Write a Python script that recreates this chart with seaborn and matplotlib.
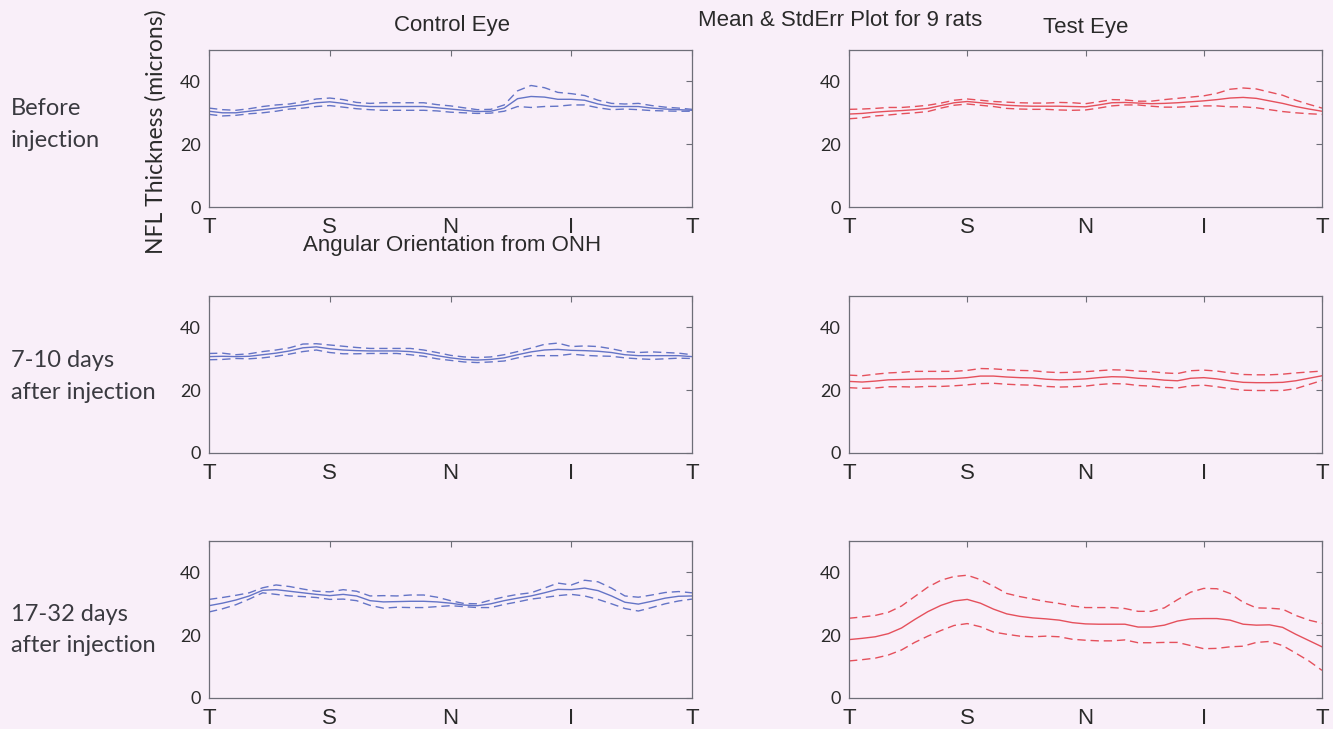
import numpy as np
import pandas as pd
import matplotlib
matplotlib.use("Agg")
import matplotlib.pyplot as plt
import seaborn as sns

# Angular position around the optic nerve head, degrees (T -> S -> N -> I -> T)
angle = np.arange(0, 361, 10)
tick_pos = [0, 90, 180, 270, 360]
tick_labels = ["T", "S", "N", "I", "T"]
y_ticks = [0, 20, 40]

# NFL thickness (microns), mean and standard error, 9 rats
ctrl_before_mean = [30.5, 30.0, 30.0, 30.5, 31.0, 31.5, 32.0, 32.5, 33.2, 33.5, 33.0, 32.3,
                    32.0, 32.0, 32.0, 32.0, 32.0, 31.6, 31.2, 30.8, 30.4, 30.5, 31.5, 34.5,
                    35.2, 35.0, 34.3, 34.3, 34.0, 32.8, 32.0, 32.0, 32.0, 31.5, 31.2, 31.0, 30.8]
ctrl_before_se = [1.0, 1.0, 0.8, 0.8, 1.0, 1.0, 0.8, 1.0, 1.2, 1.2, 1.2, 1.0,
                  1.0, 1.2, 1.2, 1.2, 1.2, 1.0, 1.0, 0.8, 0.6, 0.6, 1.0, 2.5,
                  3.5, 3.0, 2.2, 1.8, 1.5, 1.2, 1.0, 0.8, 1.0, 0.8, 0.6, 0.5, 0.3]

test_before_mean = [29.6, 29.8, 30.2, 30.5, 30.7, 31.0, 31.4, 32.3, 33.2, 33.6, 33.2, 32.8,
                    32.4, 32.2, 32.1, 32.1, 32.1, 32.0, 31.9, 32.5, 33.2, 33.3, 33.1, 32.9,
                    33.0, 33.2, 33.5, 33.8, 34.2, 34.7, 34.9, 34.6, 33.8, 33.0, 32.0, 31.2, 30.5]
test_before_se = [1.5, 1.4, 1.2, 1.2, 1.0, 1.0, 1.0, 0.8, 0.8, 0.8, 0.8, 0.8,
                  1.0, 1.0, 1.0, 1.0, 1.2, 1.2, 1.0, 1.0, 1.0, 0.8, 0.6, 0.8,
                  1.2, 1.4, 1.5, 1.6, 2.0, 2.8, 3.0, 3.0, 2.8, 2.6, 2.0, 1.5, 1.0]

ctrl_week_mean = [30.7, 30.8, 30.7, 30.8, 31.3, 31.8, 32.5, 33.5, 33.8, 33.2, 32.8, 32.6,
                  32.5, 32.5, 32.5, 32.3, 31.8, 31.0, 30.3, 29.8, 29.6, 29.8, 30.3, 31.3,
                  32.2, 32.8, 33.0, 32.7, 32.6, 32.4, 32.0, 31.3, 31.0, 31.0, 31.0, 31.0, 30.7]
ctrl_week_se = [1.0, 1.0, 0.6, 0.8, 1.0, 1.0, 1.0, 1.2, 1.0, 1.2, 1.2, 1.0,
                0.8, 0.8, 0.8, 1.0, 1.0, 1.0, 0.8, 0.8, 0.8, 0.8, 1.0, 1.0,
                1.2, 1.8, 2.0, 1.2, 1.5, 1.5, 1.2, 1.0, 1.0, 1.2, 1.0, 0.8, 0.6]

test_week_mean = [22.8, 22.6, 22.9, 23.3, 23.4, 23.5, 23.6, 23.6, 23.7, 24.0, 24.5, 24.5,
                  24.2, 24.0, 23.9, 23.5, 23.3, 23.4, 23.6, 24.0, 24.3, 24.2, 23.8, 23.6,
                  23.2, 23.0, 23.8, 24.0, 23.6, 23.0, 22.5, 22.4, 22.4, 22.5, 23.0, 23.8, 24.6]
test_week_se = [2.0, 2.0, 2.2, 2.2, 2.3, 2.5, 2.4, 2.4, 2.3, 2.3, 2.4, 2.3,
                2.3, 2.3, 2.3, 2.3, 2.3, 2.3, 2.3, 2.2, 2.2, 2.2, 2.3, 2.3,
                2.3, 2.3, 2.4, 2.4, 2.5, 2.5, 2.5, 2.5, 2.5, 2.6, 2.5, 2.0, 1.5]

ctrl_month_mean = [29.4, 30.2, 31.2, 32.5, 34.3, 34.5, 34.0, 33.5, 33.0, 32.6, 33.0, 32.5,
                   31.0, 30.6, 30.7, 30.8, 30.8, 30.6, 30.2, 29.6, 29.4, 30.0, 31.0, 31.8,
                   32.5, 33.5, 34.6, 34.5, 35.0, 34.2, 32.5, 30.5, 29.9, 30.8, 31.8, 32.4, 32.5]
ctrl_month_se = [2.0, 1.8, 1.5, 1.0, 0.8, 1.5, 1.5, 1.2, 1.0, 1.2, 1.5, 1.5,
                 1.5, 2.0, 1.8, 2.0, 2.0, 1.5, 0.8, 0.5, 0.6, 1.2, 1.2, 1.2,
                 1.0, 1.5, 2.0, 1.5, 2.5, 2.8, 2.5, 2.0, 2.2, 2.0, 1.8, 1.5, 1.0]

test_month_mean = [18.6, 19.0, 19.5, 20.5, 22.3, 25.0, 27.5, 29.5, 30.9, 31.4, 30.2, 28.3,
                   26.8, 26.0, 25.5, 25.2, 24.8, 24.0, 23.6, 23.5, 23.5, 23.5, 22.6, 22.6,
                   23.2, 24.5, 25.2, 25.3, 25.3, 24.8, 23.5, 23.2, 23.3, 22.5, 20.3, 18.3, 16.3]
test_month_se = [6.8, 6.8, 6.8, 6.8, 7.0, 7.3, 7.8, 8.0, 7.8, 7.7, 7.5, 7.3,
                 6.5, 6.3, 6.0, 5.5, 5.3, 5.3, 5.2, 5.3, 5.3, 5.0, 5.0, 5.0,
                 5.5, 6.8, 8.5, 9.6, 9.5, 8.5, 7.0, 5.5, 5.3, 5.8, 6.0, 6.5, 7.5]

row_labels = [("Before", "injection"),
              ("7-10 days", "after injection"),
              ("17-32 days", "after injection")]

panels = [
    [(ctrl_before_mean, ctrl_before_se), (test_before_mean, test_before_se)],
    [(ctrl_week_mean, ctrl_week_se), (test_week_mean, test_week_se)],
    [(ctrl_month_mean, ctrl_month_se), (test_month_mean, test_month_se)],
]

BG = "#f9eff9"
CTRL_COLOR = "#6474c6"
TEST_COLOR = "#e5505c"
SPINE = "#6e6e78"
TXT = "#2a2a2a"

sns.set_theme(style="white")
plt.rcParams["font.family"] = ["Liberation Sans", "DejaVu Sans"]

W, H = 1333, 729
fig = plt.figure(figsize=(W / 100, H / 100), dpi=100, facecolor=BG)


def px_box(left, top, right, bottom):
    return [left / W, 1 - bottom / H, (right - left) / W, (bottom - top) / H]


col_x = [(209, 692), (849, 1322)]
row_y = [(50, 207), (296, 453), (541, 698)]
colors = [CTRL_COLOR, TEST_COLOR]

for r, (top, bottom) in enumerate(row_y):
    for c, (left, right) in enumerate(col_x):
        ax = fig.add_axes(px_box(left, top, right, bottom))
        ax.set_facecolor(BG)
        mean, se = panels[r][c]
        df = pd.DataFrame({"angle": angle, "mean": mean, "se": se})
        df["upper"] = df["mean"] + df["se"]
        df["lower"] = df["mean"] - df["se"]
        col = colors[c]
        sns.lineplot(data=df, x="angle", y="mean", ax=ax, color=col, lw=1.0)
        for key in ("upper", "lower"):
            sns.lineplot(data=df, x="angle", y=key, ax=ax, color=col, lw=1.0,
                         dashes=False).lines[-1].set_dashes((6, 3.5))
        ax.set_xlim(0, 360)
        ax.set_ylim(0, 50)
        ax.set_xticks(tick_pos)
        ax.set_xticklabels(tick_labels, fontsize=16, color=TXT)
        ax.set_yticks(y_ticks)
        ax.set_yticklabels([str(v) for v in y_ticks], fontsize=13, color=TXT,
                           family=["Lato", "DejaVu Sans"])
        ax.tick_params(direction="in", top=True, right=True, length=4, width=0.8,
                       color=SPINE, pad=6)
        ax.tick_params(axis="x", pad=7)
        ax.set_xlabel("")
        ax.set_ylabel("")
        for s in ax.spines.values():
            s.set_color(SPINE)
            s.set_linewidth(0.9)
            s.set_visible(True)

# Titles and axis captions
fig.text(452 / W, 1 - 25 / H, "Control Eye", ha="center", va="center", fontsize=16, color=TXT)
fig.text(840 / W, 1 - 20 / H, "Mean & StdErr Plot for 9 rats", ha="center", va="center",
         fontsize=16, color=TXT)
fig.text(1086 / W, 1 - 27 / H, "Test Eye", ha="center", va="center", fontsize=16, color=TXT)
fig.text(452 / W, 1 - 246 / H, "Angular Orientation from ONH", ha="center", va="center",
         fontsize=16, color=TXT)
fig.text(156 / W, 1 - 132 / H, "NFL Thickness (microns)", ha="center", va="center",
         rotation=90, fontsize=16.5, color=TXT, family=["Lato", "DejaVu Sans"])

# Row captions
baselines = [(115, 147), (367, 399), (621, 652)]
for (l1, l2), (b1, b2) in zip(row_labels, baselines):
    fig.text(11 / W, 1 - b1 / H, l1, ha="left", va="baseline", fontsize=17, color="#3a3a40",
             family=["Lato", "DejaVu Sans"])
    fig.text(11 / W, 1 - b2 / H, l2, ha="left", va="baseline", fontsize=17, color="#3a3a40",
             family=["Lato", "DejaVu Sans"])

fig.savefig("out.png", dpi=100, facecolor=BG)
